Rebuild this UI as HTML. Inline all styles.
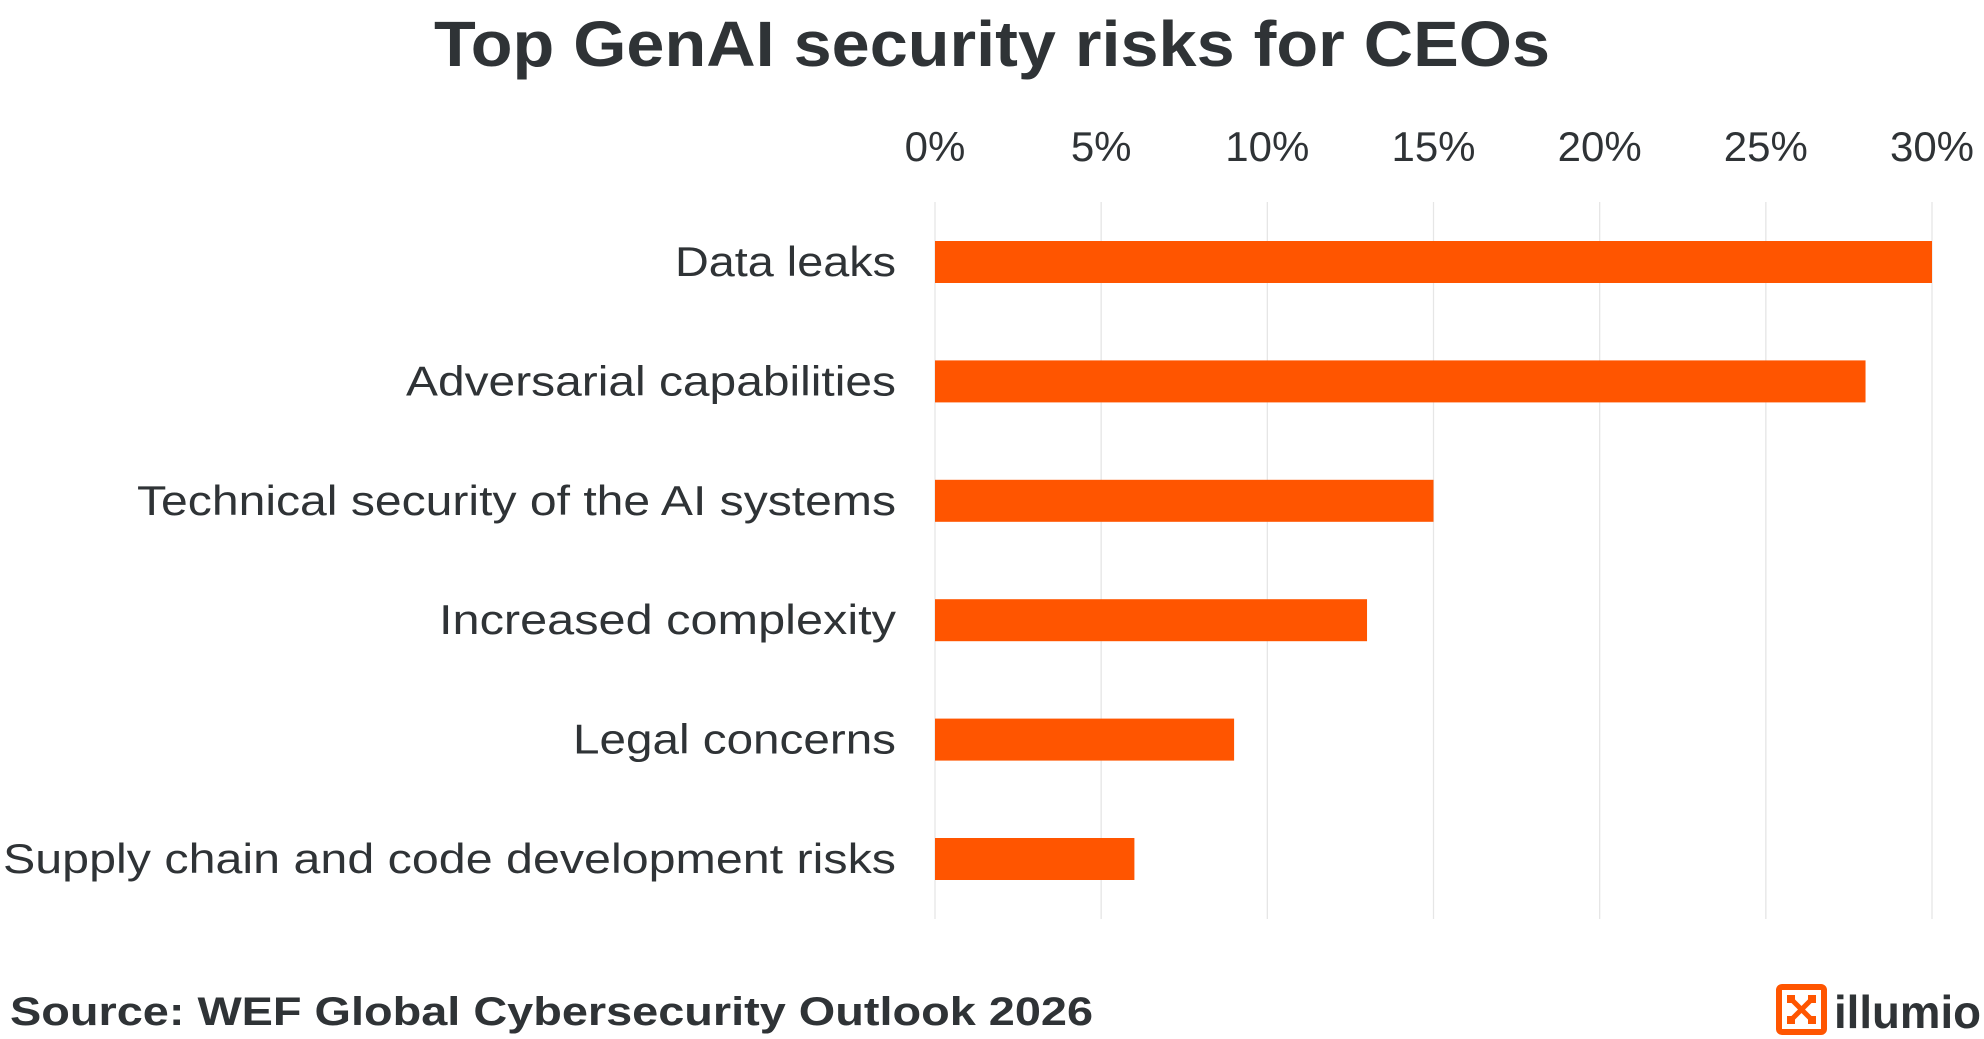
<!DOCTYPE html>
<html><head><meta charset="utf-8"><style>
html,body{margin:0;padding:0;background:#fff;}
svg{display:block;font-family:"Liberation Sans",sans-serif;}
</style></head><body>
<svg id="chart" width="1984" height="1039" viewBox="0 0 1984 1039" xmlns="http://www.w3.org/2000/svg">
<text x="434" y="66" font-size="64" font-weight="bold" fill="#2f3336" textLength="1116" lengthAdjust="spacingAndGlyphs">Top GenAI security risks for CEOs</text>
<g id="grid"></g>
<g id="ticks"></g>
<g id="bars"></g>
<g id="labels"></g>
<text x="10" y="1025" font-size="40" font-weight="bold" fill="#2f3336" textLength="1083" lengthAdjust="spacingAndGlyphs">Source:  WEF Global Cybersecurity Outlook 2026</text>
<g>
<rect x="1779" y="987" width="45" height="45" rx="3" fill="none" stroke="#ff5500" stroke-width="6"/>
<path d="M1791 999 L1812 1020 M1812 999 L1791 1020" stroke="#ff5500" stroke-width="5"/>
<rect x="1787" y="995" width="8" height="8" fill="#ff5500"/><rect x="1808" y="995" width="8" height="8" fill="#ff5500"/>
<rect x="1787" y="1016" width="8" height="8" fill="#ff5500"/><rect x="1808" y="1016" width="8" height="8" fill="#ff5500"/>
<text x="1834" y="1028" font-size="46" font-weight="bold" fill="#2f3336" textLength="147" lengthAdjust="spacingAndGlyphs">illumio</text>
</g>
</svg>
<script>
const categories=["Data leaks","Adversarial capabilities","Technical security of the AI systems","Increased complexity","Legal concerns","Supply chain and code development risks"];
const values=[30,28,15,13,9,6];
const tickValues=[0,5,10,15,20,25,30];
const tickLabels=["0%","5%","10%","15%","20%","25%","30%"];
const labelWidths=[221,490,759,457,323,893];
const NS="http://www.w3.org/2000/svg";
const x0=935,x1=1932,maxV=30;
const xs=v=>x0+(v/maxV)*(x1-x0);
const yTop=202,step=119.4,firstC=262;
const yc=i=>firstC+i*step;
const g=id=>document.getElementById(id);
tickValues.forEach((t,i)=>{
  const l=document.createElementNS(NS,'line');
  
  
  l.setAttribute('x1',xs(t));l.setAttribute('x2',xs(t));l.setAttribute('y1',yTop);l.setAttribute('y2',919);
  l.setAttribute('stroke','#e6e6e6');l.setAttribute('stroke-width','1.3');
  g('grid').appendChild(l);
  const tx=document.createElementNS(NS,'text');
  
  
  tx.setAttribute('x',xs(t));tx.setAttribute('y',161);tx.setAttribute('text-anchor','middle');
  tx.setAttribute('font-size','42');tx.setAttribute('fill','#2f3336');
  tx.textContent=tickLabels[i];
  g('ticks').appendChild(tx);
});
categories.forEach((c,i)=>{
  const r=document.createElementNS(NS,'rect');
  
  
  r.setAttribute('x',xs(0));r.setAttribute('y',yc(i)-21);
  r.setAttribute('width',xs(values[i])-xs(0));r.setAttribute('height',42);
  r.setAttribute('fill','#ff5500');
  g('bars').appendChild(r);
  const t=document.createElementNS(NS,'text');
  
  
  t.setAttribute('x',896);t.setAttribute('y',yc(i)+14);t.setAttribute('text-anchor','end');
  t.setAttribute('font-size','42');t.setAttribute('fill','#2f3336');
  t.setAttribute('textLength',labelWidths[i]);t.setAttribute('lengthAdjust','spacingAndGlyphs');
  t.textContent=c;
  g('labels').appendChild(t);
});
</script>
</body></html>
